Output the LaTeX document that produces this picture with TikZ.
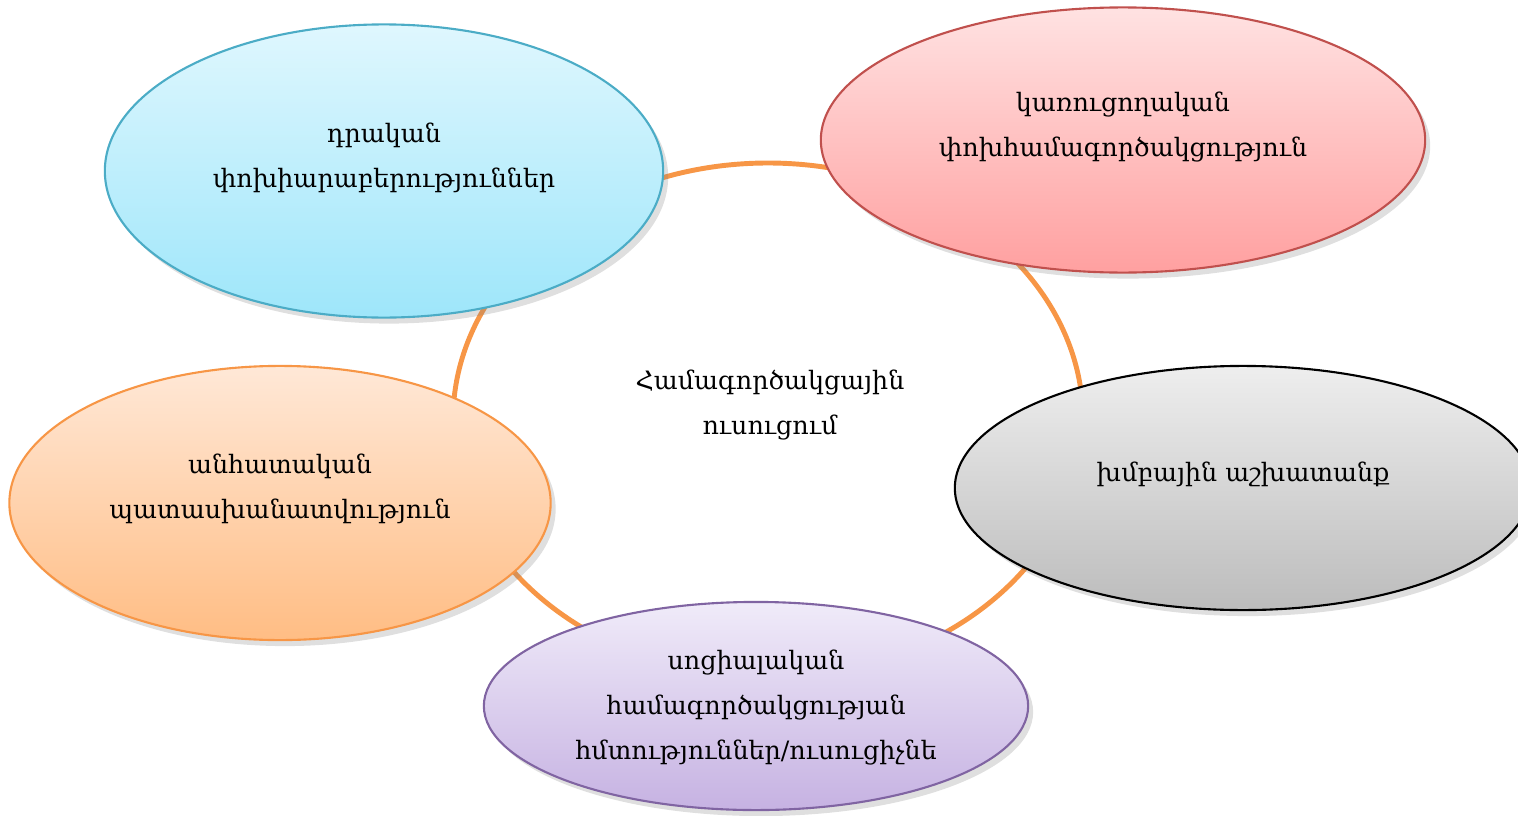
\documentclass[tikz,border=0pt]{standalone}
\usepackage{fontspec}
\newfontfamily\armfont{DejaVu Serif}
\usetikzlibrary{shapes.geometric,shadows}
\definecolor{ringorange}{HTML}{F79646}
\definecolor{bluetop}{HTML}{DFF7FE}
\definecolor{bluebot}{HTML}{9EE6FA}
\definecolor{blueline}{HTML}{4BACC6}
\definecolor{redtop}{HTML}{FFE2E2}
\definecolor{redbot}{HTML}{FFA0A0}
\definecolor{redline}{HTML}{C0504D}
\definecolor{greytop}{HTML}{EEEEEE}
\definecolor{greybot}{HTML}{BCBCBC}
\definecolor{peachtop}{HTML}{FFE8D7}
\definecolor{peachbot}{HTML}{FFBD84}
\definecolor{purpletop}{HTML}{F0EBF9}
\definecolor{purplebot}{HTML}{C6B2E2}
\definecolor{purpleline}{HTML}{8064A2}
\tikzset{
bubble/.style={ellipse, draw, line width=.6pt, inner sep=0pt,
  drop shadow={opacity=.25, shadow xshift=.05cm, shadow yshift=-.06cm}},
armtext/.style={align=center, font=\armfont\fontsize{7.2}{12.8}\selectfont},
}
\begin{document}
\begin{tikzpicture}[x=.01cm, y=-.01cm]
	\useasboundingbox (0,0) rectangle (1518,815);
	\draw[ringorange, line width=1.4pt] (768,420) ellipse [x radius=315, y radius=257];
	\node[armtext] (centre) at (770,405) {Համագործակցային\\ուսուցում};
	% the five bubbles
	\node[bubble, draw=blueline, top color=bluetop, bottom color=bluebot, minimum width=5.58cm, minimum height=2.93cm] (blue) at (384,171) {};
	\node[armtext] (bluetext) at (384,158) {դրական\\փոխիարաբերություններ};
	\node[bubble, draw=redline, top color=redtop, bottom color=redbot, minimum width=6.04cm, minimum height=2.65cm] (red) at (1123,140) {};
	\node[armtext] (redtext) at (1123,127) {կառուցողական\\փոխհամագործակցություն};
	\node[bubble, draw=black, top color=greytop, bottom color=greybot, minimum width=5.76cm, minimum height=2.44cm] (grey) at (1243,488) {};
	\node[armtext] (greytext) at (1243,474) {խմբային աշխատանք};
	\node[bubble, draw=ringorange, top color=peachtop, bottom color=peachbot, minimum width=5.41cm, minimum height=2.74cm] (peach) at (280,503) {};
	\node[armtext] (peachtext) at (280,489) {անհատական\\պատասխանատվություն};
	\node[bubble, draw=purpleline, top color=purpletop, bottom color=purplebot, minimum width=5.44cm, minimum height=2.08cm] (purple) at (756,706) {};
	\node[armtext] (purpletext) at (756,708) {սոցիալական\\համագործակցության\\հմտություններ/ուսուցիչնե};
\end{tikzpicture}
\end{document}
